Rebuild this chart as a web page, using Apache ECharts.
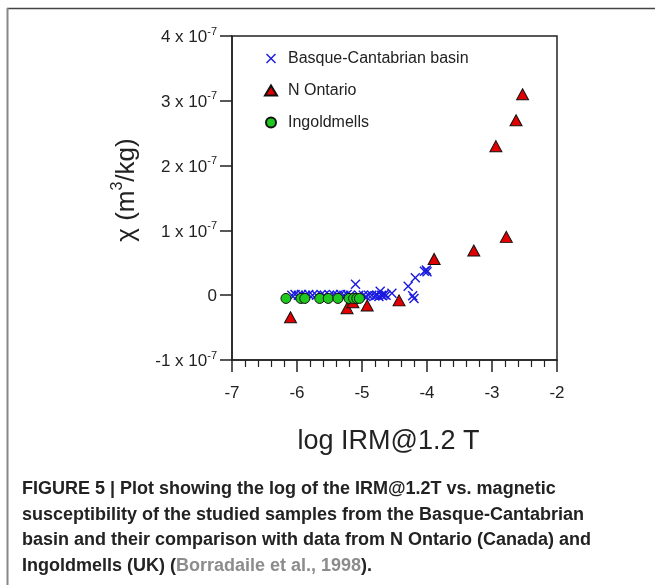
<!DOCTYPE html>
<html>
<head>
<meta charset="utf-8">
<script src="https://cdn.jsdelivr.net/npm/echarts@6/dist/echarts.min.js"></script>
<style>
html,body{margin:0;padding:0;background:#fff;}
#c{width:655px;height:585px;}
</style>
</head>
<body>
<div id="c"></div>
<script>
// x: log IRM@1.2 T ; y: magnetic susceptibility in units of 1e-7 m3/kg
var basqueCantabrian = [
  [-6.08,0.00],[-6.03,0.01],[-5.98,0.00],[-5.93,0.01],[-5.87,0.00],[-5.82,0.01],
  [-5.76,0.00],[-5.70,0.00],[-5.63,0.01],[-5.58,0.00],[-5.50,0.00],[-5.44,0.01],
  [-5.38,0.00],[-5.33,0.01],[-5.28,0.00],[-5.23,0.01],[-5.18,0.00],[-5.10,0.17],
  [-5.05,0.00],[-4.98,0.00],[-4.94,-0.02],[-4.90,0.00],[-4.85,0.00],[-4.80,-0.01],
  [-4.77,0.00],[-4.74,-0.02],[-4.72,0.06],[-4.70,0.00],[-4.68,-0.01],[-4.66,0.01],
  [-4.63,0.00],[-4.54,0.03],[-4.29,0.14],[-4.22,-0.01],[-4.20,-0.05],[-4.18,0.27],
  [-4.04,0.37],[-4.01,0.39],[-4.00,0.36]
];
var nOntario = [
  [-6.10,-0.34],[-5.23,-0.20],[-5.14,-0.11],[-4.92,-0.16],[-4.43,-0.08],
  [-3.89,0.56],[-3.28,0.69],[-2.78,0.90],[-2.94,2.30],[-2.63,2.70],[-2.53,3.10]
];
var ingoldmells = [
  [-6.17,-0.05],[-5.94,-0.05],[-5.88,-0.05],[-5.65,-0.05],[-5.52,-0.05],
  [-5.37,-0.05],[-5.20,-0.05],[-5.13,-0.05],[-5.08,-0.05],[-5.04,-0.05]
];
var seriesNames = ['Basque-Cantabrian basin','N Ontario','Ingoldmells'];
var xTicks = [-7,-6,-5,-4,-3,-2];
var yTicks = [-1,0,1,2,3,4];
var captionLines = [
  'FIGURE 5 | Plot showing the log of the IRM@1.2T vs. magnetic',
  'susceptibility of the studied samples from the Basque-Cantabrian',
  'basin and their comparison with data from N Ontario (Canada) and',
  ['Ingoldmells (UK) (', 'Borradaile et al., 1998', ').']
];

var FONT = '"Liberation Sans", Arial, Helvetica, sans-serif';
var crossPath = 'path://M0,1L1,0L5,4L9,0L10,1L6,5L10,9L9,10L5,6L1,10L0,9L4,5Z';

var chart = echarts.init(document.getElementById('c'), null, {renderer:'canvas'});

var graphics = [
  {type:'line', shape:{x1:7,y1:8.5,x2:655,y2:8.5}, style:{stroke:'#444',lineWidth:1.5}, silent:true},
  {type:'line', shape:{x1:7.5,y1:8,x2:7.5,y2:585}, style:{stroke:'#888',lineWidth:2}, silent:true}
];
var capY = [490.5, 516, 541.5, 567];
captionLines.forEach(function(l, i){
  var txt;
  if (Array.isArray(l)) {
    txt = '{a|' + l[0] + '}{g|' + l[1] + '}{a|' + l[2] + '}';
  } else {
    txt = '{a|' + l + '}';
  }
  graphics.push({
    type:'text', left:22, top: capY[i]-10, silent:true,
    style:{
      text: txt,
      rich:{
        a:{fontFamily:FONT, fontWeight:'bold', fontSize:18, fill:'#222', lineHeight:20},
        g:{fontFamily:FONT, fontWeight:'bold', fontSize:18, fill:'#8c8c8c', lineHeight:20}
      }
    }
  });
});

var option = {
  animation:false,
  backgroundColor:'#fff',
  grid:{left:232, top:36, width:325, height:324, show:true, borderColor:'#222', borderWidth:1.5, backgroundColor:'transparent'},
  legend:{
    orient:'vertical', left:259, top:45.5, itemWidth:12, itemHeight:10, itemGap:16,
    data: seriesNames,
    textStyle:{fontFamily:FONT, fontSize:16, color:'#222', padding:[0,0,0,6]}
  },
  xAxis:{
    type:'value', min:xTicks[0], max:xTicks[xTicks.length-1], interval:1,
    name:'log IRM@1.2 T', nameLocation:'middle', nameGap:68,
    nameTextStyle:{fontFamily:FONT, fontSize:27, color:'#222', padding:[0,12,0,0]},
    axisLine:{show:true, onZero:false, lineStyle:{color:'#222', width:1.5}},
    axisTick:{show:true, inside:false, length:12, lineStyle:{color:'#222', width:1.5}},
    minorTick:{show:true, splitNumber:5, length:7, lineStyle:{color:'#222', width:1.2}},
    axisLabel:{fontFamily:FONT, fontSize:17, color:'#222', margin:25},
    splitLine:{show:false}
  },
  yAxis:{
    type:'value', min:yTicks[0], max:yTicks[yTicks.length-1], interval:1,
    name:'{a|\u03C7 (m}{s|3}{a|/kg)}', nameLocation:'middle', nameGap:92, nameRotate:90,
    nameTextStyle:{
      fontFamily:FONT, fontSize:26, color:'#222', padding:[0,0,0,16],
      rich:{
        a:{fontFamily:FONT, fontSize:26, color:'#222', lineHeight:30, verticalAlign:'bottom'},
        s:{fontFamily:FONT, fontSize:16, color:'#222', lineHeight:30, verticalAlign:'top', padding:[0,0,10,0]}
      }
    },
    axisLine:{show:true, onZero:false, lineStyle:{color:'#222', width:1.5}},
    axisTick:{show:true, inside:false, length:12, lineStyle:{color:'#222', width:1.5}},
    axisLabel:{
      margin:15, color:'#222',
      formatter:function(v){
        if (v === 0) return '{b|0}';
        return '{b|' + v + ' x 10}{s|-7}';
      },
      rich:{
        b:{fontFamily:FONT, fontSize:17, color:'#222', lineHeight:20, verticalAlign:'bottom'},
        s:{fontFamily:FONT, fontSize:11, color:'#222', lineHeight:20, verticalAlign:'top', padding:[0,0,9,0]}
      }
    },
    splitLine:{show:false}
  },
  series:[
    {
      name:seriesNames[0], type:'scatter', data:basqueCantabrian,
      symbol:crossPath, symbolSize:10,
      itemStyle:{color:'#1a1ae0', opacity:1}
    },
    {
      name:seriesNames[1], type:'scatter', data:nOntario,
      symbol:'triangle', symbolSize:[12,11],
      itemStyle:{color:'#e00000', borderColor:'#111', borderWidth:1, opacity:1}
    },
    {
      name:seriesNames[2], type:'scatter', data:ingoldmells,
      symbol:'circle', symbolSize:10,
      itemStyle:{color:'#1ec81e', borderColor:'#111', borderWidth:1, opacity:1}
    }
  ],
  graphic: graphics
};
chart.setOption(option);
</script>
</body>
</html>
